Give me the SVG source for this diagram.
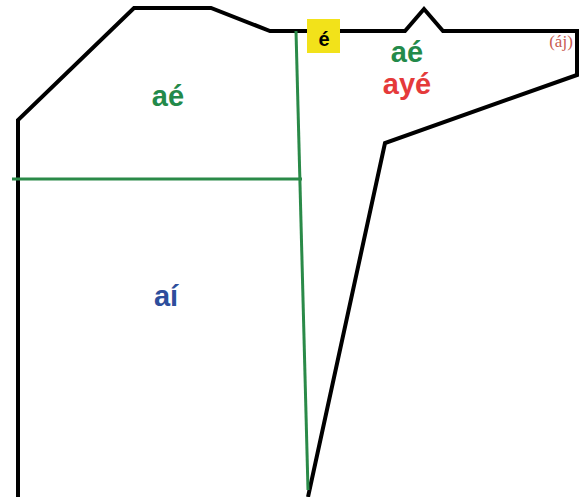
<svg xmlns="http://www.w3.org/2000/svg" width="582" height="497" viewBox="0 0 582 497">
<style>
.outline{fill:none;stroke:#000;stroke-width:4;stroke-linejoin:miter}
.div{fill:none;stroke:#2a8a48;stroke-width:3}
.lbl{font-family:"Liberation Sans",Arial,sans-serif;font-weight:bold;text-anchor:middle}
.g{fill:#238a4a}
.b{fill:#2d4e9c}
.r{fill:#e53a3a}
</style>
<rect width="582" height="497" fill="#fff"/>
<g id="outline">
<path class="outline" d="M18,497 L18,120 L134,8 L211,8 L270,31 L405,31 L424,9 L443,31 L577,31 L577,75 L385,143 L308,497"/>
</g>
<g id="dividers">
<path class="div" d="M296,31 L308,490"/>
<path class="div" d="M12,179 L302,179"/>
</g>
<g id="region-ae-left">
<text class="lbl g" x="168" y="106" font-size="29">aé</text>
</g>
<g id="region-ai">
<text class="lbl b" x="166" y="306" font-size="29">aí</text>
</g>
<g id="region-right">
<text class="lbl g" x="407" y="62" font-size="29">aé</text>
<text class="lbl r" x="407" y="94" font-size="29">ayé</text>
<text x="561" y="47" font-family="Liberation Serif,serif" font-size="17" fill="#c85a50" text-anchor="middle">(áj)</text>
</g>
<g id="e-box">
<rect x="307" y="19" width="33" height="34" fill="#f2e21a"/>
<text class="lbl" x="324" y="46" font-size="20" fill="#000">é</text>
</g>
</svg>
